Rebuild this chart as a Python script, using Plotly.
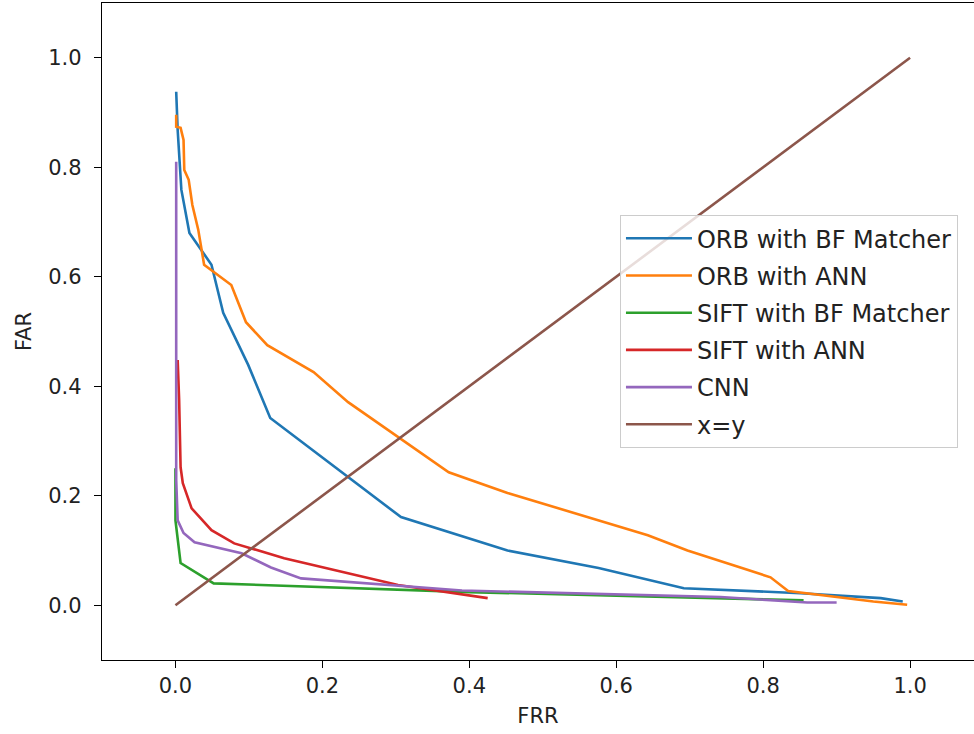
import plotly.graph_objects as go

# ---- data ----
orb_bf_frr = [0.001, 0.003, 0.008, 0.019, 0.049, 0.065, 0.099, 0.129, 0.307, 0.452, 0.576, 0.692, 0.851, 0.96, 0.99]
orb_bf_far = [0.938, 0.868, 0.759, 0.680, 0.622, 0.534, 0.439, 0.342, 0.161, 0.100, 0.068, 0.031, 0.022, 0.013, 0.007]

orb_ann_frr = [0.001, 0.001, 0.007, 0.011, 0.012, 0.018, 0.023, 0.031, 0.039, 0.076, 0.096, 0.125, 0.188, 0.235, 0.372, 0.452, 0.643, 0.697, 0.769, 0.810, 0.834, 0.950, 0.996]
orb_ann_far = [0.896, 0.874, 0.872, 0.850, 0.795, 0.777, 0.731, 0.686, 0.622, 0.585, 0.517, 0.475, 0.426, 0.371, 0.243, 0.205, 0.128, 0.100, 0.069, 0.051, 0.026, 0.007, 0.001]

sift_bf_frr = [0.0, 0.0, 0.007, 0.052, 0.40, 0.855]
sift_bf_far = [0.25, 0.155, 0.077, 0.040, 0.024, 0.009]

sift_ann_frr = [0.003, 0.005, 0.007, 0.010, 0.022, 0.049, 0.080, 0.148, 0.303, 0.425]
sift_ann_far = [0.448, 0.375, 0.252, 0.223, 0.177, 0.137, 0.113, 0.086, 0.037, 0.013]

cnn_frr = [0.001, 0.001, 0.003, 0.011, 0.026, 0.090, 0.130, 0.171, 0.39, 0.742, 0.86, 0.90]
cnn_far = [0.81, 0.229, 0.155, 0.132, 0.115, 0.095, 0.069, 0.049, 0.027, 0.015, 0.005, 0.005]

diag = [0.0, 1.0]

series = [
    ("ORB with BF Matcher", orb_bf_frr, orb_bf_far, "#1f77b4"),
    ("ORB with ANN", orb_ann_frr, orb_ann_far, "#ff7f0e"),
    ("SIFT with BF Matcher", sift_bf_frr, sift_bf_far, "#2ca02c"),
    ("SIFT with ANN", sift_ann_frr, sift_ann_far, "#d62728"),
    ("CNN", cnn_frr, cnn_far, "#9467bd"),
    ("x=y", diag, diag, "#8c564b"),
]

fig = go.Figure()
for i, (name, xs, ys, col) in enumerate(series):
    fig.add_trace(go.Scatter(x=xs, y=ys, mode="lines", name=name,
                             legendgroup=f"g{i}",
                             line=dict(color=col, width=2.6)))

tick_font = dict(family="DejaVu Sans", size=21, color="#222")
title_font = dict(family="DejaVu Sans", size=21, color="#222")
fig.update_layout(
    width=974, height=734,
    margin=dict(l=102, r=0, t=3, b=74),
    paper_bgcolor="white", plot_bgcolor="white",
    font=tick_font,
    showlegend=True,
    legend=dict(x=0.594, y=0.677, xanchor="left", yanchor="top",
                bordercolor="#cccccc", borderwidth=1, bgcolor="rgba(255,255,255,0.8)",
                traceorder="grouped", tracegroupgap=3, itemwidth=66,
                font=dict(family="DejaVu Sans", size=24, color="#222")),
    xaxis=dict(range=[-0.1, 1.087], tickvals=[0, 0.2, 0.4, 0.6, 0.8, 1.0],
               tickformat=".1f", showgrid=False, zeroline=False,
               showline=True, linecolor="black", linewidth=1.3, mirror=True,
               ticks="outside", ticklen=7, tickcolor="black", tickfont=tick_font,
               title=dict(text="FRR", standoff=10, font=title_font)),
    yaxis=dict(range=[-0.1, 1.1], tickvals=[0, 0.2, 0.4, 0.6, 0.8, 1.0],
               tickformat=".1f", showgrid=False, zeroline=False,
               showline=True, linecolor="black", linewidth=1.3, mirror=False,
               ticks="outside", ticklen=7, tickcolor="black", tickfont=tick_font,
               ticklabelstandoff=8,
               title=dict(text="FAR", standoff=10, font=title_font)),
)

fig.write_html("out.html")
